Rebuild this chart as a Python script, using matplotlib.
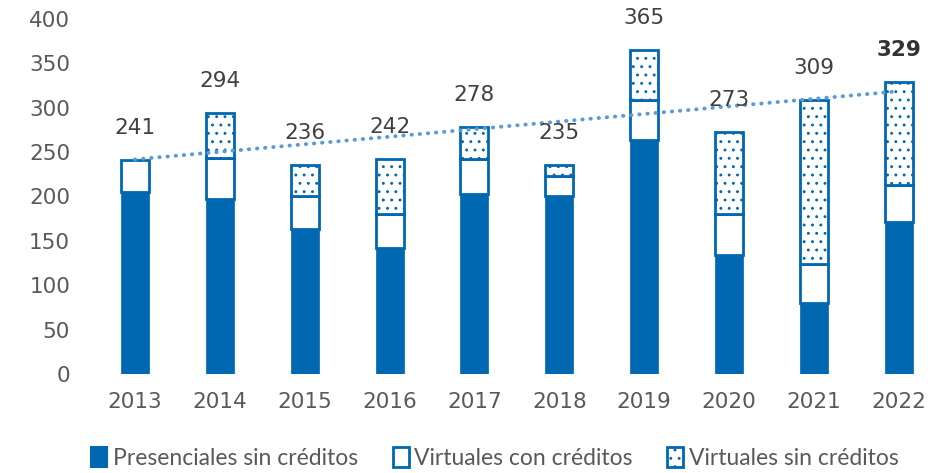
import numpy as np
import matplotlib.pyplot as plt
from matplotlib.patches import Patch

# =========================
# Data
# =========================
years = ["2013", "2014", "2015", "2016", "2017", "2018", "2019", "2020", "2021", "2022"]
presenciales_sin = [205, 197, 163, 142, 203, 200, 264, 134, 80, 171]
virtuales_con = [36, 46, 37, 38, 39, 23, 45, 46, 44, 42]
virtuales_sin = [0, 51, 36, 62, 36, 12, 56, 93, 185, 116]
totals = [241, 294, 236, 242, 278, 235, 365, 273, 309, 329]

BLUE = "#0067B1"
TREND = "#5B9BD5"
GREY = "#595959"
DARK = "#404040"

plt.rcParams["hatch.linewidth"] = 0.9

fig = plt.figure(figsize=(9.38, 4.73), dpi=100)
ax = fig.add_axes([84 / 938, 99 / 473, (937 - 84) / 938, 355 / 473])

x = np.arange(len(years))
w = 0.33
pres = np.array(presenciales_sin)
vcon = np.array(virtuales_con)
vsin = np.array(virtuales_sin)

ax.bar(x, pres, width=w, color=BLUE, edgecolor=BLUE, linewidth=0.5, zorder=2)
ax.bar(x, vcon, width=w, bottom=pres, facecolor="white", edgecolor=BLUE,
       linewidth=2.0, zorder=2)
mask = vsin > 0
ax.bar(x[mask], vsin[mask], width=w, bottom=(pres + vcon)[mask],
       facecolor="white", edgecolor=BLUE, linewidth=2.0, hatch="..", zorder=2)

# linear trend of totals
coef = np.polyfit(x, totals, 1)
ax.plot(x, np.polyval(coef, x), color=TREND, lw=2.8,
        linestyle=(0, (0.1, 2.0)), dash_capstyle="round", zorder=3)

# total labels
for i, t in enumerate(totals):
    bold = i == len(totals) - 1
    ax.annotate(str(t), (x[i], t), xytext=(0, 23), textcoords="offset points",
                ha="center", va="center", fontsize=15.5, color="#333333" if bold else DARK,
                fontweight="bold" if bold else "normal", zorder=4,
                annotation_clip=False)

ax.set_xlim(-0.6, 9.45)
ax.set_ylim(0, 400)
ax.set_yticks(np.arange(0, 401, 50))
ax.set_xticks(x)
ax.set_xticklabels(years)
ax.tick_params(axis="both", length=0, labelsize=15.5, labelcolor=GREY)
ax.tick_params(axis="y", pad=10)
ax.tick_params(axis="x", pad=13)
for s in ax.spines.values():
    s.set_visible(False)

handles = [
    Patch(facecolor=BLUE, edgecolor=BLUE, linewidth=1.5),
    Patch(facecolor="white", edgecolor=BLUE, linewidth=2.0),
    Patch(facecolor="white", edgecolor=BLUE, linewidth=2.0, hatch=".."),
]
labels = ["Presenciales sin créditos", "Virtuales con créditos", "Virtuales sin créditos"]
fig.legend(handles, labels, loc="center", bbox_to_anchor=(495 / 938, 15 / 473),
           ncol=3, frameon=False, handlelength=0.7, handleheight=1.0,
           handletextpad=0.25, columnspacing=1.5,
           prop={"family": ["Lato", "DejaVu Sans"], "size": 16.5},
           labelcolor=GREY)

fig.savefig("out.png", dpi=100)
